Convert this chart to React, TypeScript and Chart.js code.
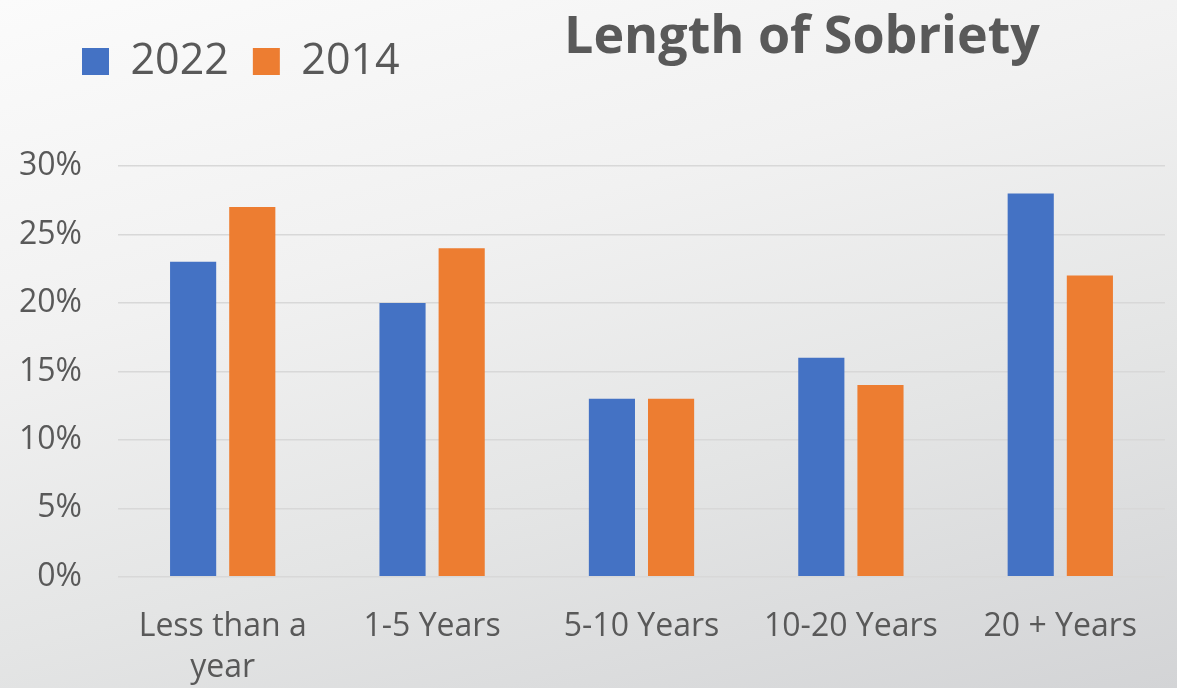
import React, { useEffect, useRef } from "react";
import { Chart, registerables } from "chart.js";

Chart.register(...registerables);

const categories: (string | string[])[] = [["Less than a", "year"], "1-5 Years", "5-10 Years", "10-20 Years", "20 + Years"];
const series2022 = [23, 20, 13, 16, 28];
const series2014 = [27, 24, 13, 14, 22];
const seriesLabels = ["2022", "2014"];
const seriesColors = ["#4472C4", "#ED7D31"];
const yMin = 0;
const yMax = 30;
const yStep = 5;
const chartTitle = "Length of Sobriety";

const TEXT = "#595959";
const FONT = '"Open Sans", "DejaVu Sans", sans-serif';

const titlePlugin = {
  id: "sideTitle",
  afterLayout(chart: any) {
    // let the y tick labels extend left of the axis box without being clipped
    const s = chart.scales.y;
    if (s) s.left = 0;
  },
  afterDraw(chart: any) {
    const ctx = chart.ctx;
    ctx.save();
    ctx.font = `bold 52px ${FONT}`;
    ctx.fillStyle = TEXT;
    ctx.textAlign = "left";
    ctx.textBaseline = "alphabetic";
    ctx.fillText(chartTitle, 564, 53);
    ctx.restore();
  },
};

export default function App() {
  const ref = useRef<HTMLCanvasElement | null>(null);

  useEffect(() => {
    if (!ref.current) return;
    const chart = new Chart(ref.current, {
      type: "bar",
      data: {
        labels: categories,
        datasets: [
          {
            label: seriesLabels[0],
            data: series2022,
            backgroundColor: seriesColors[0],
            categoryPercentage: 0.565,
            barPercentage: 0.78,
          },
          {
            label: seriesLabels[1],
            data: series2014,
            backgroundColor: seriesColors[1],
            categoryPercentage: 0.565,
            barPercentage: 0.78,
          },
        ],
      },
      options: {
        animation: false,
        responsive: true,
        maintainAspectRatio: false,
        layout: { padding: { top: 16, left: 58, right: 12, bottom: -30 } },
        plugins: {
          title: { display: false },
          subtitle: {
            display: true,
            text: "",
            font: { size: 10, lineHeight: 1 },
            padding: { top: 63, bottom: 0 },
            weight: 500,
          } as any,
          legend: {
            display: true,
            position: "top",
            align: "start",
            labels: {
              boxWidth: 27,
              boxHeight: 27,
              padding: 24,
              color: TEXT,
              font: { family: FONT, size: 43 },
            },
          },
          tooltip: { enabled: false },
        },
        scales: {
          x: {
            grid: { display: false, drawTicks: false },
            border: { display: false },
            ticks: {
              color: TEXT,
              font: { family: FONT, size: 32, lineHeight: 1.3 },
              padding: 29,
              maxRotation: 0,
              autoSkip: false,
            },
          },
          y: {
            min: yMin,
            max: yMax,
            border: { display: false },
            grid: { color: "#d8d8d8", lineWidth: 1.5, drawTicks: false },
            afterFit: (scale: any) => {
              scale.width = 60;
            },
            ticks: {
              stepSize: yStep,
              color: TEXT,
              font: { family: FONT, size: 32 },
              padding: 36,
              callback: (v: any) => `${v}%`,
            },
          },
        },
      },
      plugins: [titlePlugin],
    });
    return () => chart.destroy();
  }, []);

  return (
    <div
      style={{
        position: "absolute",
        left: 0,
        top: 0,
        width: 1177,
        height: 688,
        background: "linear-gradient(165deg, #fbfbfb 0%, #f1f1f1 35%, #e4e5e5 65%, #d3d4d6 100%)",
      }}
    >
      <canvas ref={ref} />
    </div>
  );
}
